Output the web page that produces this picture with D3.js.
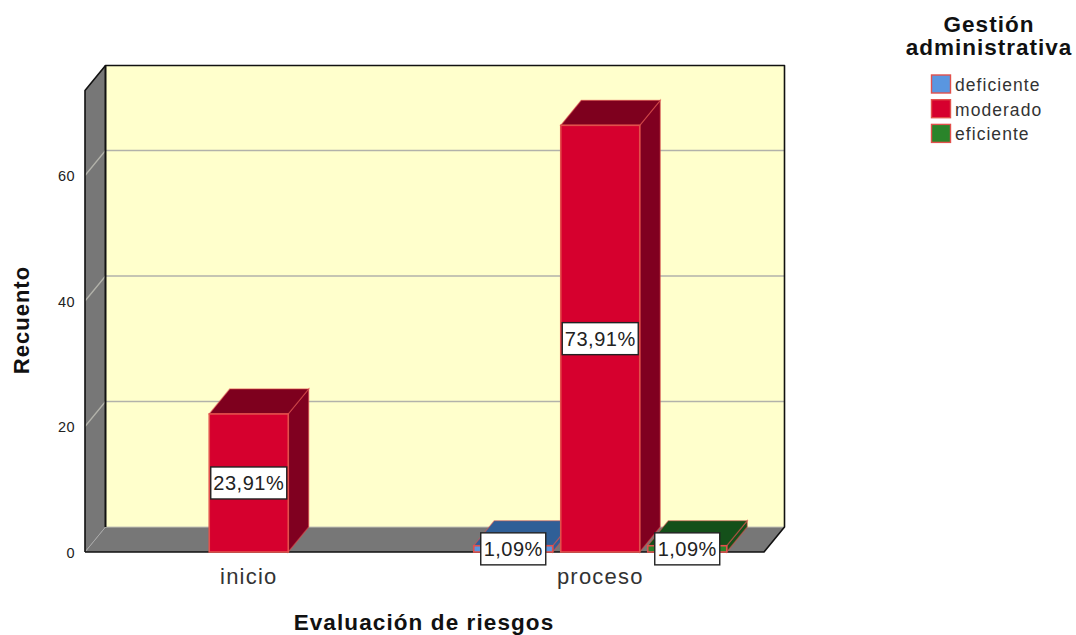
<!DOCTYPE html>
<html><head><meta charset="utf-8">
<script src="https://cdn.jsdelivr.net/npm/d3@7"></script>
<style>html,body{margin:0;padding:0;background:#fff}svg{display:block}text{font-family:"Liberation Sans",Arial,sans-serif}</style>
</head><body><svg id="c" width="1076" height="635"></svg>
<script>
const categories=["inicio","proceso"];
const seriesNames=["deficiente","moderado","eficiente"];
const inicioValues=[0,22,0];
const procesoValues=[1,68,1];
const inicioLabels=[null,"23,91%",null];
const procesoLabels=["1,09%","73,91%","1,09%"];
const yTicks=[0,20,40,60];
const legendTitle=["Gestión","administrativa"];
const xTitle="Evaluación de riesgos", yTitle="Recuento";
const faceColors=["#5a96e0","#d6002e","#2a842a"];
const topColors=["#2f5f97","#7e001e","#14501a"];
const sideColors=["#2f5f97","#800020","#14501a"];

const svg=d3.select("#c");
const dx=20.5, dy=-25;
const y=d3.scaleLinear().domain([0,60]).range([552,175.5]);
const yMax=y.invert(90.5);
const x=d3.scaleBand().domain(categories).range([73,776]);
const s=d3.scaleBand().domain(seriesNames).range([-130.5,130.5]);
const barW=79;
const xL=85,xR=764;
const pts=a=>a.map(p=>p.join(",")).join(" ");

svg.append("polygon").attr("points",pts([[xL+dx,y(yMax)+dy],[xR+dx,y(yMax)+dy],[xR+dx,y(0)+dy],[xL+dx,y(0)+dy]])).attr("fill","#ffffcc");
svg.append("polygon").attr("points",pts([[xL,y(yMax)],[xL+dx,y(yMax)+dy],[xL+dx,y(0)+dy],[xL,y(0)]])).attr("fill","#777777");
svg.append("polygon").attr("points",pts([[xL,y(0)],[xL+dx,y(0)+dy],[xR+dx,y(0)+dy],[xR,y(0)]])).attr("fill","#777777");
yTicks.filter(t=>t>0).forEach(t=>{
  svg.append("polyline").attr("points",pts([[xL,y(t)],[xL+dx,y(t)+dy],[xR+dx,y(t)+dy]])).attr("fill","none").attr("stroke","#b2b2aa").attr("stroke-width",1.3);
});
svg.append("line").attr("x1",xL+dx).attr("x2",xR+dx).attr("y1",y(0)+dy).attr("y2",y(0)+dy).attr("stroke","#c4c4b8");
svg.append("line").attr("x1",xL).attr("y1",y(0)).attr("x2",xL+dx).attr("y2",y(0)+dy).attr("stroke","#aaaaaa");
svg.append("path").attr("fill","none").attr("stroke","#111").attr("stroke-width",1.6).attr("stroke-linejoin","round")
 .attr("d",`M${xL},${y(0)}V${y(yMax)}L${xL+dx},${y(yMax)+dy}H${xR+dx}V${y(0)+dy}L${xR},${y(0)}H${xL}`);
svg.append("line").attr("x1",xL+dx).attr("x2",xL+dx).attr("y1",y(yMax)+dy).attr("y2",y(0)+dy).attr("stroke","#111").attr("stroke-width",2);

const rows=[];
categories.forEach((c,ci)=>{
  const vals=ci===0?inicioValues:procesoValues, labs=ci===0?inicioLabels:procesoLabels;
  seriesNames.forEach((n,i)=>{ if(vals[i]>0) rows.push({c,n,i,v:vals[i],lab:labs[i]}); });
});
const edge="#e2504c";
const bars=svg.append("g").selectAll("g").data(rows.slice().sort((a,b)=>a.v-b.v)).join("g");
const L=d=>x(d.c)+x.bandwidth()/2+s(d.n)+s.bandwidth()/2-barW/2;
bars.append("polygon").attr("points",d=>{const a=L(d)+barW;return pts([[a,y(d.v)],[a+dx,y(d.v)+dy],[a+dx,y(0)+dy],[a,y(0)]]);})
  .attr("fill",d=>sideColors[d.i]).attr("stroke",edge).attr("stroke-opacity",.55).attr("stroke-width",1.2);
bars.append("polygon").attr("points",d=>{const a=L(d);return pts([[a,y(d.v)],[a+dx,y(d.v)+dy],[a+barW+dx,y(d.v)+dy],[a+barW,y(d.v)]]);})
  .attr("fill",d=>topColors[d.i]).attr("stroke",edge).attr("stroke-opacity",.55).attr("stroke-width",1.2);
bars.append("rect").attr("x",L).attr("width",barW).attr("y",d=>y(d.v)).attr("height",d=>y(0)-y(d.v))
  .attr("fill",d=>faceColors[d.i]).attr("stroke",edge).attr("stroke-width",1.6);

const yAxis=svg.append("g").attr("transform","translate(80,0)").call(d3.axisLeft(y).tickValues(yTicks).tickSize(0).tickPadding(5));
yAxis.select(".domain").remove();
yAxis.selectAll("text").style("font-size","14.5px").style("font-family",'"Liberation Sans"').style("letter-spacing","0.4px").attr("fill","#222").attr("dy","0.37em");
const xAxis=svg.append("g").attr("transform","translate(0,565)").call(d3.axisBottom(x).tickSize(0).tickPadding(3));
xAxis.select(".domain").remove();
xAxis.selectAll("text").style("font-size","22px").style("font-family",'"Liberation Sans"').style("letter-spacing","1.2px").attr("fill","#333");

const labelled=rows.filter(d=>d.lab);
const lg=svg.append("g").selectAll("g").data(labelled).join("g")
  .attr("transform",d=>`translate(${L(d)+barW/2},${(y(d.v)+y(0))/2})`);
lg.append("rect").attr("x",d=>d.lab.length>5?-38:-32.5).attr("width",d=>d.lab.length>5?76:65).attr("y",-16).attr("height",32)
  .attr("fill","#fff").attr("stroke","#222").attr("stroke-width",1.4);
lg.append("text").attr("text-anchor","middle").attr("y",7).attr("font-size",20).attr("letter-spacing",.5).attr("fill","#222").text(d=>d.lab);

svg.append("text").attr("x",424).attr("y",630).attr("text-anchor","middle").attr("font-size",22.5).attr("font-weight","bold").attr("letter-spacing",1.1).attr("fill","#111").text(xTitle);
svg.append("text").attr("transform","translate(29,320) rotate(-90)").attr("text-anchor","middle").attr("font-size",22).attr("font-weight","bold").attr("letter-spacing",1).attr("fill","#111").text(yTitle);

svg.append("g").selectAll("text").data(legendTitle).join("text").attr("x",989).attr("y",(d,i)=>32+i*23)
  .attr("text-anchor","middle").attr("font-size",22.5).attr("font-weight","bold").attr("letter-spacing",1).attr("fill","#111").text(d=>d);
const leg=svg.append("g").selectAll("g").data(seriesNames).join("g").attr("transform",(d,i)=>`translate(931,${75+i*24.7})`);
leg.append("rect").attr("x",.5).attr("y",0).attr("width",19).attr("height",18).attr("fill",(d,i)=>faceColors[i]).attr("stroke",edge).attr("stroke-width",1.4);
leg.append("text").attr("x",24).attr("y",16).attr("font-size",17.5).attr("letter-spacing",1.05).attr("fill","#333").text(d=>d);
</script></body></html>
